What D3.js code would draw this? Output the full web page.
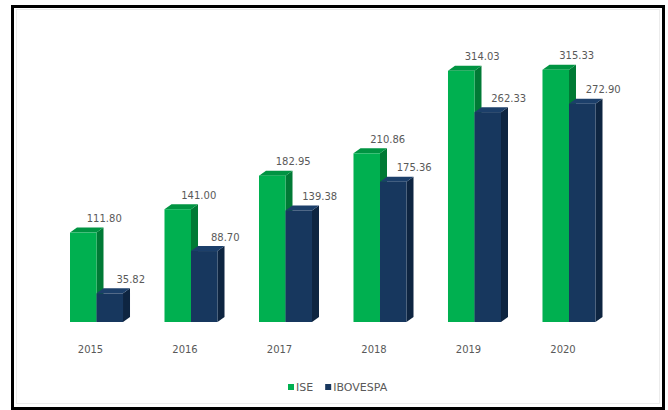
<!DOCTYPE html>
<html>
<head>
<meta charset="utf-8">
<script src="https://cdn.jsdelivr.net/npm/d3@7"></script>
<style>
  body { margin: 0; background: #fff; }
  svg { display: block; }
</style>
</head>
<body>
<div id="vis"></div>
<script>
// data
const years = ['2015', '2016', '2017', '2018', '2019', '2020'];
const series = ['ISE', 'IBOVESPA'];
const ise = [111.80, 141.00, 182.95, 210.86, 314.03, 315.33];
const ibovespa = [35.82, 88.70, 139.38, 175.36, 262.33, 272.90];

const width = 668, height = 410;

// colours per series: front, side, top
const colors = {
  ISE: { front: '#00b050', side: '#007a35', top: '#009442' },
  IBOVESPA: { front: '#17375e', side: '#0e2541', top: '#1c3f6a' }
};
const depth = { dx: 7, dy: 5 };

const rows = years.map((y, i) => ({ year: y, ISE: ise[i], IBOVESPA: ibovespa[i] }));

let svg = d3.select('#vis')
  .append('svg')
  .attr('width', width)
  .attr('height', height);

// frame
svg.append('rect')
  .attr('x', 16.5).attr('y', 9.5)
  .attr('width', 643).attr('height', 394)
  .attr('fill', 'none')
  .attr('stroke', '#ececec');
svg.append('rect')
  .attr('x', 12.5).attr('y', 6.5)
  .attr('width', 651).attr('height', 402)
  .attr('fill', 'none')
  .attr('stroke', '#000')
  .attr('stroke-width', 3);

// scales
let yScale = d3.scaleLinear()
  .domain([0, 350])
  .range([322, 42]);

let xScale = d3.scaleBand()
  .domain(years)
  .range([70, 595.5])
  .paddingInner(0.439)
  .paddingOuter(0);

let xSub = d3.scaleBand()
  .domain(series)
  .range([0, xScale.bandwidth()]);

// bars (ISE first so IBOVESPA front covers its side)
let groups = svg.selectAll('g.year')
  .data(rows)
  .enter()
  .append('g')
  .attr('class', 'year')
  .attr('transform', d => `translate(${xScale(d.year)},0)`);

series.forEach(function(s) {
  let bar = groups.append('g');
  let w = xSub.bandwidth();
  let base = yScale(0);

  // side face
  bar.append('polygon')
    .attr('fill', colors[s].side)
    .attr('points', function(d) {
      let x = xSub(s) + w, t = yScale(d[s]);
      return [[x, t], [x + depth.dx, t - depth.dy], [x + depth.dx, base - depth.dy], [x, base]].join(' ');
    });

  // top face
  bar.append('polygon')
    .attr('fill', colors[s].top)
    .attr('points', function(d) {
      let x = xSub(s), t = yScale(d[s]);
      return [[x, t], [x + depth.dx, t - depth.dy], [x + w + depth.dx, t - depth.dy], [x + w, t]].join(' ');
    });

  // front face
  bar.append('rect')
    .attr('fill', colors[s].front)
    .attr('x', xSub(s))
    .attr('y', d => yScale(d[s]))
    .attr('width', w)
    .attr('height', d => base - yScale(d[s]));

  // value labels
  bar.append('text')
    .attr('x', xSub(s) + w / 2 + 21)
    .attr('y', d => yScale(d[s]) - 14)
    .attr('text-anchor', 'middle')
    .attr('dominant-baseline', 'central')
    .style('font-family', 'DejaVu Sans, sans-serif')
    .style('font-size', '10px')
    .style('fill', '#595959')
    .text(d => d3.format('.2f')(d[s]));
});

// category labels
svg.selectAll('text.cat')
  .data(years)
  .enter()
  .append('text')
  .attr('class', 'cat')
  .attr('x', d => xScale(d) + xScale.bandwidth() / 2 - 6)
  .attr('y', 349)
  .attr('text-anchor', 'middle')
  .attr('dominant-baseline', 'central')
  .style('font-family', 'DejaVu Sans, sans-serif')
  .style('font-size', '10px')
  .style('fill', '#595959')
  .text(d => d);

// legend
let legend = svg.append('g').attr('transform', 'translate(288,387)');
let lx = 0;
series.forEach(function(s) {
  let item = legend.append('g').attr('transform', `translate(${lx},0)`);
  item.append('rect')
    .attr('x', 0).attr('y', -3)
    .attr('width', 6).attr('height', 6)
    .attr('fill', colors[s].front);
  let t = item.append('text')
    .attr('x', 8)
    .attr('y', 0)
    .attr('dominant-baseline', 'central')
    .style('font-family', 'DejaVu Sans, sans-serif')
    .style('font-size', '11px')
    .style('fill', '#595959')
    .text(s);
  lx += 8 + t.node().getComputedTextLength() + 12;
});
</script>
</body>
</html>
